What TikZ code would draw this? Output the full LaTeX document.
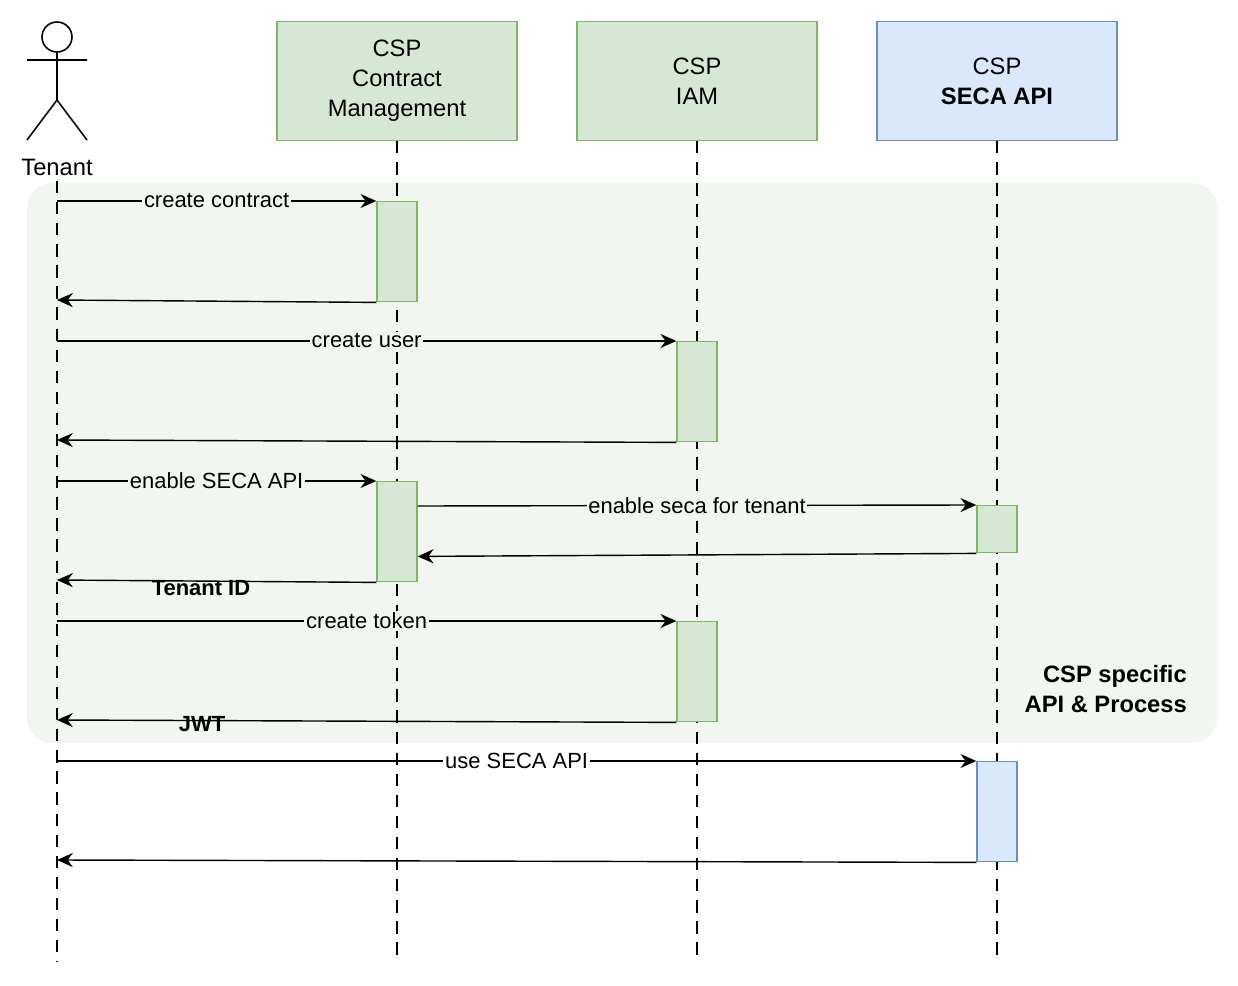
\documentclass[tikz,border=0pt]{standalone}
\usepackage{fontspec}
\setmainfont{Liberation Sans}
\usetikzlibrary{positioning, arrows.meta}
\definecolor{grfill}{HTML}{D5E8D4}
\definecolor{grdraw}{HTML}{82B366}
\definecolor{blfill}{HTML}{DAE8FC}
\definecolor{bldraw}{HTML}{6C8EBF}
\definecolor{zone}{HTML}{F1F7F0}
\tikzset{
  head/.style={draw=grdraw, fill=grfill, minimum width=240*0.02cm, minimum height=119*0.02cm, align=center, font=\fontsize{13.5}{17}\selectfont, line width=0.8pt},
  act/.style={draw=grdraw, fill=grfill, minimum width=40*0.02cm, anchor=north, inner sep=0pt, line width=0.8pt},
  life/.style={dashed, line width=1.6pt, dash pattern=on 7pt off 5pt},
  msg/.style={draw, -{Stealth[length=9pt, width=8pt]}, line width=0.8pt},
  lbl/.style={fill=zone, inner sep=1pt, font=\fontsize{12.5}{15}\selectfont}
}
\begin{document}
\begin{tikzpicture}[x=0.02cm, y=-0.02cm]
  \useasboundingbox (0,0) rectangle (1238,986);
  % zone
  \fill[zone, rounded corners=0.5cm] (27,183) rectangle (1217,743);
  \node[align=right, font=\bfseries\fontsize{13.5}{17}\selectfont, anchor=east] (zonelbl) at (1193,689) {CSP specific\\API \& Process};
  % participants
  \draw[line width=0.9pt] (57,37) circle (15);
  \draw[line width=0.9pt] (57,52) -- (57,100) (27,60) -- (87,60) (27,140) -- (57,100) -- (87,140);
  \node[font=\fontsize{13.5}{17}\selectfont] (tenant) at (57,167) {Tenant};
  \node[head] (cm) at (397,81) {CSP\\Contract\\Management};
  \node[head] (iam) at (697,81) {CSP\\IAM};
  \node[head, draw=bldraw, fill=blfill] (seca) at (997,81) {CSP\\\textbf{SECA API}};
  % lifelines
  \draw[life] (57,181) -- (57,962);
  \foreach \n/\x in {cm/397, iam/697, seca/997}
    \draw[life] (\n.south) -- (\x,962);
  % activations
  \node[act, minimum height=100*0.02cm] (a1) at (397,201) {};
  \node[act, minimum height=100*0.02cm] (a2) at (697,341) {};
  \node[act, minimum height=100*0.02cm] (a3) at (397,481) {};
  \node[act, minimum height=47*0.02cm] (a4) at (997,505) {};
  \node[act, minimum height=100*0.02cm] (a5) at (697,621) {};
  \node[act, minimum height=100*0.02cm, draw=bldraw, fill=blfill] (a6) at (997,761) {};
  % tenant ends
  \foreach \y in {201,300,341,440,481,580,621,720,761,860}
    \coordinate (t\y) at (57,\y);
  % messages
  \draw[msg] (t201) -- node[lbl] {create contract} (a1.north west);
  \draw[msg] (a1.south west) -- (t300);
  \draw[msg] (t341) -- node[lbl] {create user} (a2.north west);
  \draw[msg] (a2.south west) -- (t440);
  \draw[msg] (t481) -- node[lbl] {enable SECA API} (a3.north west);
  \draw[msg] (a3.north east) ++(0,25) coordinate (s1) -- node[lbl] {enable seca for tenant} (a4.north west);
  \draw[msg] (a4.south west) -- ([yshift=-3*0.02cm]a3.south east |- a4.south west);
  \draw[msg] (a3.south west) -- (t580);
  \node[lbl, font=\bfseries\fontsize{12.5}{15}\selectfont, fill=none] (tid) at (201,588) {Tenant ID};
  \draw[msg] (t621) -- node[lbl] {create token} (a5.north west);
  \draw[msg] (a5.south west) -- (t720);
  \node[lbl, font=\bfseries\fontsize{12.5}{15}\selectfont, fill=none] (jwt) at (202,724) {JWT};
  \draw[msg] (t761) -- node[lbl, fill=white] {use SECA API} (a6.north west);
  \draw[msg] (a6.south west) -- (t860);
\end{tikzpicture}
\end{document}
